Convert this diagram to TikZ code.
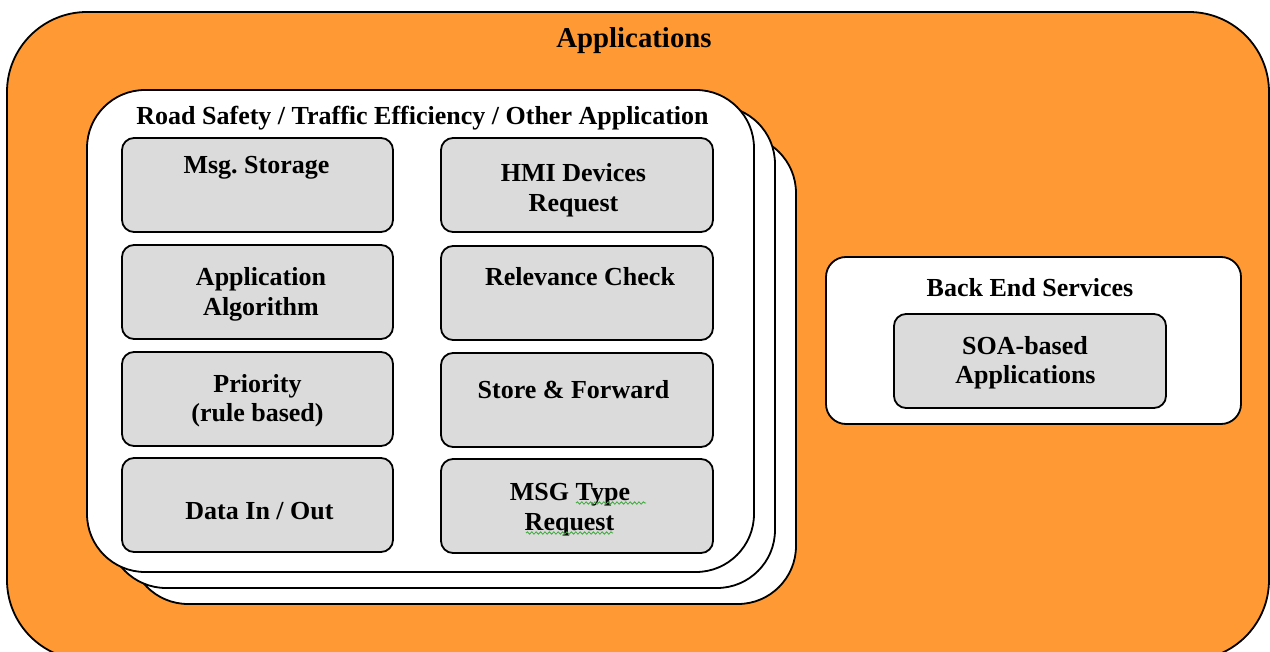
\documentclass[tikz,border=0pt]{standalone}
\usepackage{fontspec}
\setmainfont{Liberation Serif}
\usetikzlibrary{fit,decorations.pathmorphing}
\definecolor{appsorange}{RGB}{255,153,51}
\definecolor{cellgray}{RGB}{219,219,219}
\definecolor{spellgreen}{RGB}{60,170,60}
\begin{document}
\begin{tikzpicture}[x=0.5pt,y=-0.5pt,
  frame/.style={draw=black,line width=0.9pt},
  outerbox/.style={frame,fill=appsorange,rounded corners=40pt,inner sep=0pt},
  card/.style={frame,fill=white,rounded corners=29pt,inner sep=0pt},
  svcbox/.style={frame,fill=white,rounded corners=10pt,inner sep=0pt},
  cell/.style={frame,fill=cellgray,rounded corners=6pt,inner sep=0pt},
  lbl/.style={font=\bfseries\fontsize{13}{15}\selectfont,inner sep=0pt,anchor=base},
  ttl/.style={font=\bfseries\fontsize{14.4}{17}\selectfont,inner sep=0pt,anchor=base},
  squiggle/.style={draw=spellgreen,line width=0.4pt,decorate,
    decoration={snake,amplitude=0.6pt,segment length=2.2pt}}]
\useasboundingbox (0,0) rectangle (1270,652);
\clip (0,0) rectangle (1270,652);

% outer application layer
\node[outerbox,fit={(7,12) (1269,660)}] (apps) {};
\node[ttl] (appsT) at (634,48) {Applications};

% stacked application cards
\node[card,fit={(130,135) (796,604)}] (card3) {};
\node[card,fit={(108,106) (775,588)}] (card2) {};
\node[card,fit={(87,90) (754,572)}] (card1) {};
\node[lbl] (cardT) at (422.5,125) {Road Safety / Traffic Efficiency / Other Application};

% left column
\node[cell,fit={(122,138) (393,232)}] (msg) {};
\node[cell,fit={(122,245) (393,339)}] (algo) {};
\node[cell,fit={(122,352) (393,446)}] (prio) {};
\node[cell,fit={(122,458) (393,552)}] (data) {};
% right column
\node[cell,fit={(441,138) (713,232)}] (hmi) {};
\node[cell,fit={(441,246) (713,340)}] (rel) {};
\node[cell,fit={(441,353) (713,447)}] (store) {};
\node[cell,fit={(441,459) (713,553)}] (type) {};

\node[lbl] (msgT) at (256.5,174) {Msg.\ Storage};
\node[lbl] (algoT1) at (261,286) {Application};
\node[lbl] (algoT2) at (261,316) {Algorithm};
\node[lbl] (prioT1) at (257.5,393) {Priority};
\node[lbl] (prioT2) at (257.5,422) {(rule based)};
\node[lbl] (dataT) at (259.5,519) {Data In / Out};

\node[lbl] (hmiT1) at (573.5,182) {HMI Devices};
\node[lbl] (hmiT2) at (573.5,212) {Request};
\node[lbl] (relT) at (580,286) {Relevance Check};
\node[lbl] (storeT) at (573.5,399) {Store \& Forward};
\node[lbl] (typeT1) at (570,500) {MSG Type};
\node[lbl] (typeT2) at (569.5,530) {Request};

% spell-check marks
\path[squiggle] (576,503) -- (646,503);
\path[squiggle] (526,533) -- (613,533);

% back end services
\node[svcbox,fit={(826,257) (1241,424)}] (backend) {};
\node[lbl] (backendT) at (1030,297) {Back End Services};
\node[cell,fit={(894,314) (1166,408)}] (soa) {};
\node[lbl] (soaT1) at (1025,355) {SOA-based};
\node[lbl] (soaT2) at (1025.5,384) {Applications};
\end{tikzpicture}
\end{document}
